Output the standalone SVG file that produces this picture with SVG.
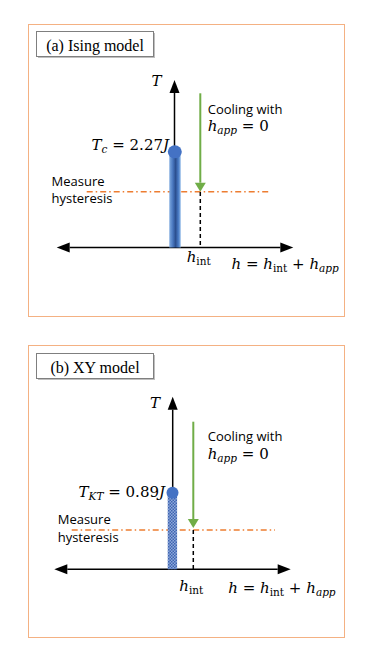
<svg xmlns="http://www.w3.org/2000/svg" width="374" height="664" viewBox="0 0 374 664">
<style>
.panel{fill:#fff;stroke:#F4B183;stroke-width:1}
.lbox{fill:#fff;stroke:#7F7F7F;stroke-width:1}
.lshadow{fill:#BFBFBF}
.ltext{font-family:"Liberation Serif",serif;font-size:16px;fill:#000;text-anchor:middle}
.axis{stroke:#000;stroke-width:1.5;fill:none}
.cool{stroke:#70AD47;stroke-width:2;fill:none}
.meas{stroke:#ED7D31;stroke-width:1.5;stroke-dasharray:6 3 1.5 3;fill:none}
.dash{stroke:#000;stroke-width:1.5;stroke-dasharray:4 3;fill:none}
.sans{font-family:"Open Sans","Liberation Sans",sans-serif;font-size:13px;fill:#000}
.math{font-family:"DejaVu Serif","Liberation Serif",serif;font-size:15px;fill:#000}
.it{font-style:italic}
.sub{font-size:10.5px}
</style>
<defs>
<marker id="ah" markerUnits="userSpaceOnUse" markerWidth="14" markerHeight="12" refX="0" refY="5" orient="auto-start-reverse" overflow="visible">
<path d="M0,0 L13,5 L0,10 z" fill="#000"/>
</marker>
<marker id="gh" markerUnits="userSpaceOnUse" markerWidth="10" markerHeight="12" refX="0" refY="5.5" orient="auto" overflow="visible">
<path d="M0,0 L9,5.5 L0,11 z" fill="#70AD47"/>
</marker>
<linearGradient id="cyl" x1="0" y1="0" x2="1" y2="0">
<stop offset="0" stop-color="#7EA9DE"/>
<stop offset="0.3" stop-color="#4A78C0"/>
<stop offset="0.55" stop-color="#2B4F8F"/>
<stop offset="0.8" stop-color="#4A7CC6"/>
<stop offset="1" stop-color="#8CB6E6"/>
</linearGradient>
<pattern id="chk" patternUnits="userSpaceOnUse" width="3" height="3">
<rect width="3" height="3" fill="#8EA9DB"/>
<rect width="1.5" height="1.5" fill="#3E64B0"/>
<rect x="1.5" y="1.5" width="1.5" height="1.5" fill="#3E64B0"/>
</pattern>
</defs>

<g id="panel-a">
<rect class="panel" x="28.5" y="24.5" width="316" height="292"/>
<g id="label-a">
<rect class="lshadow" x="38" y="33" width="117" height="25"/>
<rect class="lbox" x="36.5" y="31.5" width="117" height="25"/>
<text class="ltext" x="95" y="51">(a) Ising model</text>
</g>
</g>

<g id="panel-b">
<rect class="panel" x="28.5" y="345.5" width="316" height="292"/>
<g id="label-b">
<rect class="lshadow" x="38" y="355" width="117" height="25"/>
<rect class="lbox" x="36.5" y="353.5" width="117" height="25"/>
<text class="ltext" x="95" y="373">(b) XY model</text>
</g>
</g>

<g id="connectors">
<line class="axis" x1="174.5" y1="247.5" x2="174.5" y2="93" marker-end="url(#ah)"/>
<line class="axis" x1="69.7" y1="247.5" x2="280.3" y2="247.5" marker-start="url(#ah)" marker-end="url(#ah)"/>
<line class="cool" x1="200.3" y1="93.3" x2="200.3" y2="182.7" marker-end="url(#gh)"/>
<line class="meas" x1="86.7" y1="191.7" x2="268.3" y2="191.7"/>
<line class="dash" x1="200.3" y1="192" x2="200.3" y2="247.5"/>

<line class="axis" x1="172.7" y1="569.3" x2="172.7" y2="409.7" marker-end="url(#ah)"/>
<line class="axis" x1="67.3" y1="569.3" x2="277.7" y2="569.3" marker-start="url(#ah)" marker-end="url(#ah)"/>
<line class="cool" x1="193.3" y1="421.7" x2="193.3" y2="519" marker-end="url(#gh)"/>
<line class="meas" x1="71.7" y1="530" x2="275" y2="530"/>
<line class="dash" x1="193.3" y1="530" x2="193.3" y2="569.3"/>
</g>

<g id="ising-bar">
<rect x="169.3" y="152" width="11.4" height="95.5" fill="url(#cyl)"/>
<ellipse cx="174.8" cy="151.8" rx="7" ry="6.5" fill="#4472C4"/>
</g>

<g id="xy-bar">
<rect x="167.7" y="493" width="9.4" height="76.3" fill="url(#chk)"/>
<ellipse cx="172.5" cy="492.8" rx="6" ry="6" fill="#4472C4"/>
</g>

<g id="labels-a">
<text class="math it" x="151.5" y="86">T</text>
<text class="sans" x="207.7" y="114">Cooling with</text>
<text class="math" x="207.7" y="131"><tspan class="it">h</tspan><tspan class="sub it" dy="3">app</tspan><tspan dy="-3"> = 0</tspan></text>
<text class="math" x="169" y="149.5" text-anchor="end"><tspan class="it">T</tspan><tspan class="sub it" dy="3">c</tspan><tspan dy="-3"> = 2.27</tspan><tspan class="it">J</tspan></text>
<text class="sans" x="51.5" y="185.5">Measure</text>
<text class="sans" x="51.5" y="203">hysteresis</text>
<text class="math" x="186.7" y="262"><tspan class="it">h</tspan><tspan class="sub" dy="3">int</tspan></text>
<text class="math" x="231.5" y="268.5"><tspan class="it">h</tspan><tspan> = </tspan><tspan class="it">h</tspan><tspan class="sub" dy="3">int</tspan><tspan dy="-3"> + </tspan><tspan class="it">h</tspan><tspan class="sub it" dy="3">app</tspan></text>
</g>

<g id="labels-b">
<text class="math it" x="150" y="408">T</text>
<text class="sans" x="207.7" y="441">Cooling with</text>
<text class="math" x="207.7" y="459"><tspan class="it">h</tspan><tspan class="sub it" dy="3">app</tspan><tspan dy="-3"> = 0</tspan></text>
<text class="math" x="165" y="497" text-anchor="end"><tspan class="it">T</tspan><tspan class="sub it" dy="3">KT</tspan><tspan dy="-3"> = 0.89</tspan><tspan class="it">J</tspan></text>
<text class="sans" x="57.7" y="524">Measure</text>
<text class="sans" x="57.7" y="542">hysteresis</text>
<text class="math" x="179.3" y="591"><tspan class="it">h</tspan><tspan class="sub" dy="3">int</tspan></text>
<text class="math" x="228.3" y="593.3"><tspan class="it">h</tspan><tspan> =  </tspan><tspan class="it">h</tspan><tspan class="sub" dy="3">int</tspan><tspan dy="-3"> + </tspan><tspan class="it">h</tspan><tspan class="sub it" dy="3">app</tspan></text>
</g>
</svg>
